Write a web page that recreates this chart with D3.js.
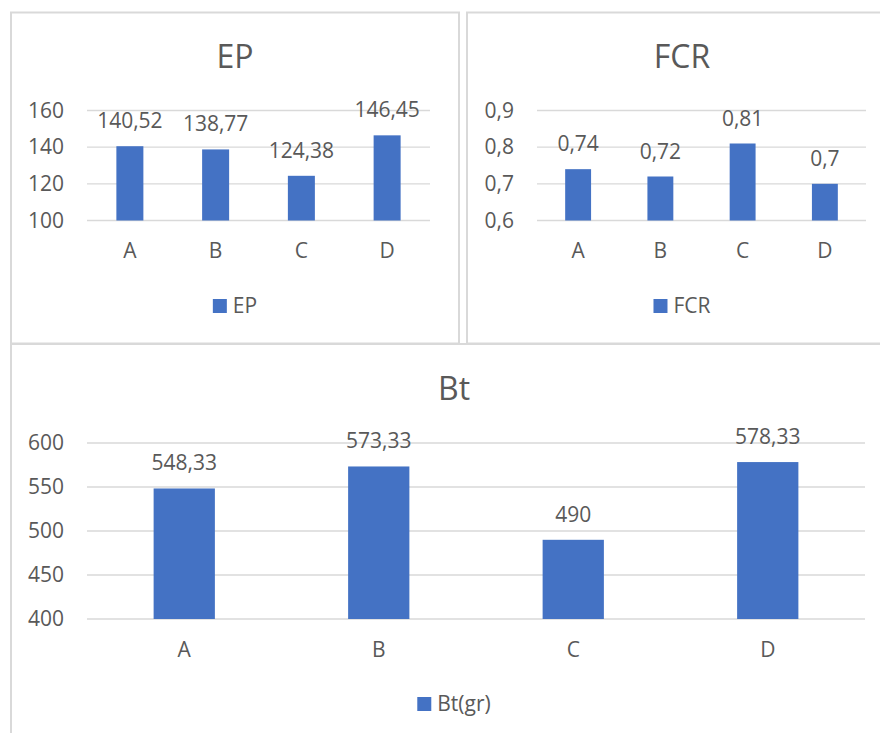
<!DOCTYPE html>
<html>
<head>
<meta charset="utf-8">
<script src="https://cdn.jsdelivr.net/npm/d3@7"></script>
<style>
  html, body { margin: 0; padding: 0; background: #ffffff; }
  svg { display: block; }
  text { font-family: "Open Sans", "Noto Sans", sans-serif; fill: #595959; }
</style>
</head>
<body>
<svg id="chart" width="880" height="733"></svg>
<script>
// Treatment groups shared by the three charts
const categories = ["A", "B", "C", "D"];

// EP values and axis ticks
const epValues = [140.52, 138.77, 124.38, 146.45];
const epTicks = [100, 120, 140, 160];

// FCR values and axis ticks
const fcrValues = [0.74, 0.72, 0.81, 0.7];
const fcrTicks = [0.6, 0.7, 0.8, 0.9];

// Body weight (Bt, grams) values and axis ticks
const btValues = [548.33, 573.33, 490, 578.33];
const btTicks = [400, 450, 500, 550, 600];

const BAR = "#4472C4";
const GRID = "#d9d9d9";
const BORDER = "#d9d9d9";
const FONT = 21;

// Decimal comma formatting, e.g. 140.52 -> "140,52"
const fmt = v => String(+v.toFixed(2)).replace(".", ",");

const charts = [
  {
    title: "EP", legend: "EP", values: epValues, ticks: epTicks,
    box: { x: 11, y: 12.5, w: 448, h: 331 },
    plot: { x0: 87, x1: 430, y0: 110.5, y1: 220.5 },
    titleY: 67.5, catY: 258, legendY: 299
  },
  {
    title: "FCR", legend: "FCR", values: fcrValues, ticks: fcrTicks,
    box: { x: 467, y: 12.5, w: 430, h: 331 },
    plot: { x0: 537, x1: 866, y0: 110.5, y1: 220.5 },
    titleY: 67.5, catY: 258, legendY: 299
  },
  {
    title: "Bt", legend: "Bt(gr)", values: btValues, ticks: btTicks,
    box: { x: 11, y: 344, w: 886, h: 400 },
    plot: { x0: 87, x1: 865, y0: 443, y1: 619 },
    titleY: 400, catY: 656.5, legendY: 697
  }
];

const svg = d3.select("#chart");

charts.forEach(c => {
  const g = svg.append("g");

  // Chart frame
  g.append("rect")
    .attr("x", c.box.x).attr("y", c.box.y)
    .attr("width", c.box.w).attr("height", c.box.h)
    .attr("fill", "none").attr("stroke", BORDER).attr("stroke-width", 2);

  const x = d3.scaleBand()
    .domain(categories)
    .range([c.plot.x0, c.plot.x1])
    .paddingInner(0.685)
    .paddingOuter(0.3425);

  const y = d3.scaleLinear()
    .domain([c.ticks[0], c.ticks[c.ticks.length - 1]])
    .range([c.plot.y1, c.plot.y0]);

  // Horizontal gridlines
  g.append("g")
    .selectAll("line")
    .data(c.ticks)
    .join("line")
    .attr("x1", c.plot.x0).attr("x2", c.plot.x1)
    .attr("y1", d => y(d)).attr("y2", d => y(d))
    .attr("stroke", GRID).attr("stroke-width", 1.4);

  // Value axis labels
  const yAxis = d3.axisLeft(y).tickValues(c.ticks).tickSize(0).tickPadding(0).tickFormat(fmt);
  const ya = g.append("g")
    .attr("transform", `translate(${c.plot.x0 - 23},0)`)
    .call(yAxis);
  ya.select(".domain").remove();
  ya.selectAll("text")
    .attr("font-size", FONT)
    .attr("fill", "#595959")
    .style("font-family", '"Open Sans", "Noto Sans", sans-serif');

  // Bars
  g.append("g")
    .selectAll("rect")
    .data(c.values)
    .join("rect")
    .attr("x", (d, i) => x(categories[i]))
    .attr("width", x.bandwidth())
    .attr("y", d => y(d))
    .attr("height", d => y(c.ticks[0]) - y(d))
    .attr("fill", BAR);

  // Data labels above bars
  g.append("g")
    .selectAll("text")
    .data(c.values)
    .join("text")
    .attr("x", (d, i) => x(categories[i]) + x.bandwidth() / 2)
    .attr("y", d => y(d) - 18)
    .attr("text-anchor", "middle")
    .attr("font-size", FONT)
    .text(fmt);

  // Category axis labels
  const xAxis = d3.axisBottom(x).tickSize(0).tickPadding(0);
  const xa = g.append("g")
    .attr("transform", `translate(0,${c.catY})`)
    .call(xAxis);
  xa.select(".domain").remove();
  xa.selectAll("text")
    .attr("dy", null)
    .attr("y", 0)
    .attr("font-size", FONT)
    .attr("fill", "#595959")
    .style("font-family", '"Open Sans", "Noto Sans", sans-serif');

  // Title
  const cx = c.box.x + c.box.w / 2;
  g.append("text")
    .attr("x", cx).attr("y", c.titleY)
    .attr("text-anchor", "middle")
    .attr("font-size", 32)
    .text(c.title);

  // Legend
  const lg = g.append("g");
  lg.append("rect")
    .attr("width", 14).attr("height", 14)
    .attr("fill", BAR);
  const lt = lg.append("text")
    .attr("x", 20).attr("y", 13.5)
    .attr("font-size", FONT)
    .text(c.legend);
  const w = 20 + lt.node().getComputedTextLength();
  lg.attr("transform", `translate(${cx - w / 2},${c.legendY})`);
});
</script>
</body>
</html>
